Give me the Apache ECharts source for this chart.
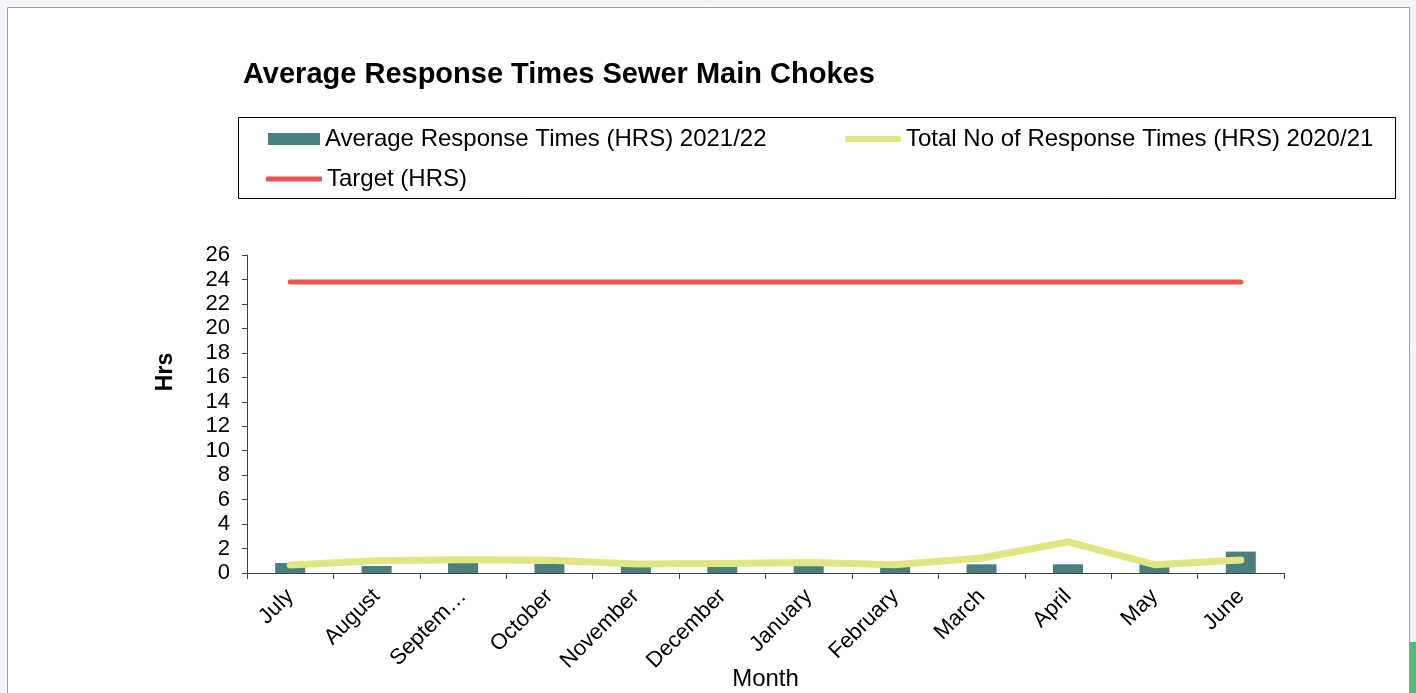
<!DOCTYPE html>
<html><head><meta charset="utf-8">
<script src="https://cdn.jsdelivr.net/npm/echarts@6/dist/echarts.min.js"></script>
<style>html,body{margin:0;padding:0;background:#fff;}#c{width:1416px;height:693px;}</style>
</head><body><div id="c"></div>
<script>
const categories = ['July','August','September','October','November','December','January','February','March','April','May','June'];
const avgResponse2122 = [0.82,0.57,0.82,0.74,0.55,0.52,0.57,0.5,0.71,0.71,0.75,1.75];
const total2021 = [0.65,1.0,1.09,1.04,0.74,0.77,0.85,0.68,1.23,2.54,0.68,1.06];
const target = [23.8,23.8,23.8,23.8,23.8,23.8,23.8,23.8,23.8,23.8,23.8,23.8];
const yTicks = {min:0,max:26,interval:2};
const names = ['Average Response Times (HRS) 2021/22','Total No of Response Times (HRS) 2020/21','Target (HRS)'];

const FONT = '"Liberation Sans", Arial, sans-serif';
const chart = echarts.init(document.getElementById('c'), null, {renderer:'canvas'});
chart.setOption({
  backgroundColor:'#fff',
  animation:false,
  textStyle:{fontFamily:FONT},
  graphic:[
    {type:'rect',z:-10,silent:true,shape:{x:0,y:0,width:1416,height:8},style:{fill:'#f3f4f9'}},
    {type:'rect',z:-10,silent:true,shape:{x:0,y:0,width:7,height:693},style:{fill:'#f3f4f9'}},
    {type:'rect',z:-10,silent:true,shape:{x:1410,y:0,width:6,height:693},style:{fill:'#f3f4f9'}},
    {type:'rect',z:-5,silent:true,shape:{x:7.5,y:7.5,width:1402,height:700},style:{fill:'#fff',stroke:'#a0a0a0',lineWidth:1}},
    {type:'rect',z:-4,silent:true,shape:{x:1410,y:642,width:6,height:51},style:{fill:'#4fb978'}},
    {type:'rect',z:0,silent:true,shape:{x:238.5,y:117.5,width:1157,height:81},style:{fill:'none',stroke:'#000',lineWidth:1}}
  ],
  title:{text:'Average Response Times Sewer Main Chokes',left:238,top:55,
    textStyle:{fontFamily:FONT,fontSize:29,fontWeight:'bold',color:'#000'}},
  legend:[
    {data:[{name:names[0],icon:'rect'}],left:263,top:122,itemWidth:52,itemHeight:12,
      textStyle:{fontFamily:FONT,fontSize:24,color:'#000'}},
    {data:[{name:names[1],icon:'roundRect'}],left:840,top:122,itemWidth:56,itemHeight:6,
      textStyle:{fontFamily:FONT,fontSize:24,color:'#000'}},
    {data:[{name:names[2],icon:'roundRect'}],left:261,top:162,itemWidth:56,itemHeight:5,
      textStyle:{fontFamily:FONT,fontSize:24,color:'#000'}}
  ],
  grid:{left:247,right:132,top:255,bottom:120,containLabel:false,outerBoundsMode:'none'},
  xAxis:{type:'category',data:categories,
    name:'Month',nameLocation:'middle',nameGap:94,nameMoveOverlap:false,
    nameTextStyle:{fontFamily:FONT,fontSize:24,color:'#000'},
    axisLine:{lineStyle:{color:'#444',width:1}},
    axisTick:{show:true,length:6,lineStyle:{color:'#444'}},
    axisLabel:{rotate:45,fontFamily:FONT,fontSize:22,color:'#000',margin:20,
      formatter:v=>v==='September'?'Septem…':v}},
  yAxis:{type:'value',min:yTicks.min,max:yTicks.max,interval:yTicks.interval,
    name:'Hrs',nameLocation:'middle',nameGap:70,nameRotate:90,
    nameTextStyle:{fontFamily:FONT,fontSize:23,fontWeight:'bold',color:'#000',padding:[0,0,0,84]},
    axisLine:{show:true,lineStyle:{color:'#444',width:1}},
    axisTick:{show:true,length:5,lineStyle:{color:'#444'}},
    splitLine:{show:false},
    axisLabel:{fontFamily:FONT,fontSize:22,color:'#000',margin:17}},
  series:[
    {name:names[0],type:'bar',data:avgResponse2122,barWidth:30,itemStyle:{color:'#4a7f7f'}},
    {name:names[1],type:'line',data:total2021,symbol:'none',
      lineStyle:{color:'#e0e680',width:7,cap:'round',join:'round'},itemStyle:{color:'#e0e680'}},
    {name:names[2],type:'line',data:target,symbol:'none',
      lineStyle:{color:'#f0514f',width:5,cap:'round'},itemStyle:{color:'#f0514f'}}
  ]
});
</script></body></html>
